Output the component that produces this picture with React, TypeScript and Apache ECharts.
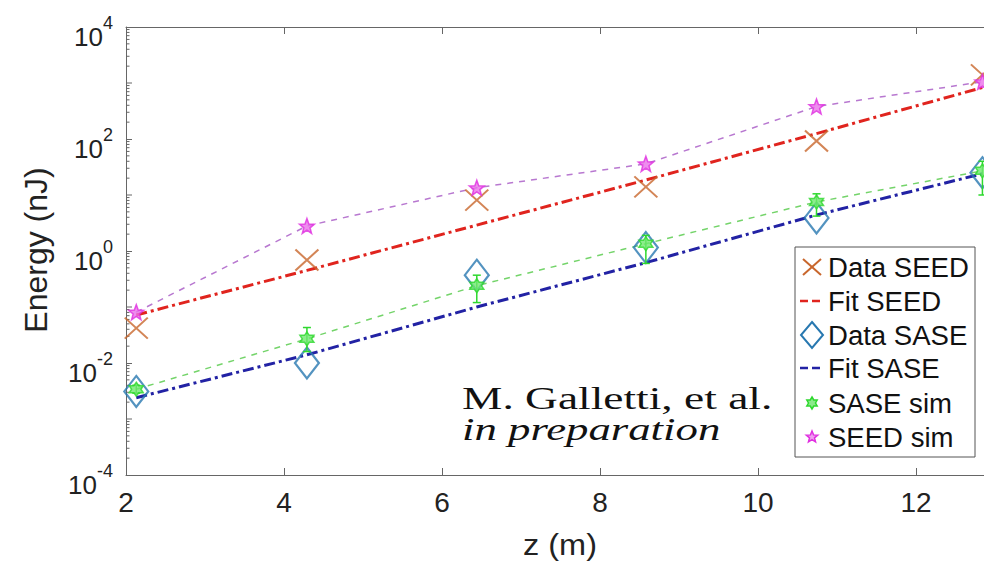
import React, { useEffect, useRef } from 'react';
import * as echarts from 'echarts';

// ---- data ----
const zPos = [2.13, 4.29, 6.44, 8.58, 10.74, 12.84];
const dataSeed = [0.042, 0.69, 8.1, 14, 92, 1400];
const fitSeed = [0.072, 0.45, 2.9, 18.5, 125, 830];
const dataSase = [0.0031, 0.01, 0.37, 1.15, 3.9, 25];
const fitSase = [0.0024, 0.014, 0.1, 0.62, 4.4, 24];
const saseSim = [0.0034, 0.027, 0.24, 1.35, 7.5, 27];
const saseSimLow = [0.0029, 0.016, 0.12, 0.6, 4.2, 10];
const saseSimHigh = [0.004, 0.043, 0.37, 1.9, 10.5, 40];
const seedSim = [0.081, 2.8, 13.5, 36, 380, 1050];
const legendNames = ['Data SEED', 'Fit SEED', 'Data SASE', 'Fit SASE', 'SASE sim', 'SEED sim'];

const C_DSEED = '#C8662C';
const C_FSEED = '#E0241E';
const C_DSASE = '#2878B0';
const C_FSASE = '#2222A4';
const C_SASESIM = '#2ED82E';
const C_SASELINE = '#74D46A';
const C_SEEDSIM = '#E030E0';
const C_SEEDLINE = '#B878D0';
const SANS = 'Liberation Sans, Arial, sans-serif';
const SERIF = 'Liberation Serif, Times New Roman, serif';

function starPoints(n: number, cx: number, cy: number, ro: number, ri: number) {
  const pts: number[][] = [];
  for (let i = 0; i < 2 * n; i++) {
    const r = i % 2 === 0 ? ro : ri;
    const a = -Math.PI / 2 + (i * Math.PI) / n;
    pts.push([cx + r * Math.cos(a), cy + r * Math.sin(a)]);
  }
  return pts;
}
function starPath(n: number, ri: number) {
  const pts = starPoints(n, 50, 50, 50, ri);
  return 'path://M' + pts.map((p) => p[0].toFixed(2) + ',' + p[1].toFixed(2)).join('L') + 'Z';
}
const PENTA = starPath(5, 21);
const HEXA = starPath(6, 29);
const XSYM = 'path://M0,0L20,20M20,0L0,20';

export default function App() {
  const ref = useRef<HTMLDivElement>(null);
  useEffect(() => {
    if (!ref.current) return;
    const chart = echarts.init(ref.current, null, { renderer: 'svg' });
    const pair = (ys: number[]) => zPos.map((z, i) => [z, ys[i]]);

    const minorTicks: number[][] = [];
    for (let e = -4; e < 4; e++) {
      for (let k = 1; k <= 9; k++) {
        if (k === 1 && e % 2 === 0) continue;
        minorTicks.push([2, k * Math.pow(10, e), k === 1 ? 6 : 3.5]);
      }
    }

    const legendX = 795;
    const legendY = 247;
    const rowY = [267, 301, 335, 368, 403, 437];
    const iconX = 812;
    const textX = 828;
    const legendChildren: any[] = [
      {
        type: 'rect',
        shape: { x: legendX, y: legendY, width: 180, height: 210 },
        style: { fill: '#fff', stroke: '#555', lineWidth: 1 },
      },
    ];
    legendNames.forEach((nm, i) => {
      legendChildren.push({
        type: 'text',
        x: textX,
        y: rowY[i] + 1,
        scaleX: 1.02,
        style: {
          text: nm,
          fontSize: 27,
          fontFamily: SANS,
          fill: '#111',
          textVerticalAlign: 'middle',
          textAlign: 'left',
        },
      });
    });
    legendChildren.push(
      { type: 'line', shape: { x1: iconX - 9, y1: rowY[0] - 8, x2: iconX + 9, y2: rowY[0] + 8 }, style: { stroke: C_DSEED, lineWidth: 2 } },
      { type: 'line', shape: { x1: iconX - 9, y1: rowY[0] + 8, x2: iconX + 9, y2: rowY[0] - 8 }, style: { stroke: C_DSEED, lineWidth: 2 } },
      { type: 'line', shape: { x1: iconX - 12, y1: rowY[1], x2: iconX + 12, y2: rowY[1] }, style: { stroke: C_FSEED, lineWidth: 2.5, lineDash: [8, 4] } },
      { type: 'polygon', shape: { points: [[iconX, rowY[2] - 13], [iconX + 11, rowY[2]], [iconX, rowY[2] + 13], [iconX - 11, rowY[2]]] }, style: { fill: 'none', stroke: C_DSASE, lineWidth: 2 } },
      { type: 'line', shape: { x1: iconX - 12, y1: rowY[3], x2: iconX + 12, y2: rowY[3] }, style: { stroke: C_FSASE, lineWidth: 2.5, lineDash: [8, 4] } },
      { type: 'polygon', shape: { points: starPoints(6, iconX, rowY[4], 6, 3.5) }, style: { fill: '#8BEA8B', stroke: C_SASESIM, lineWidth: 1.5 } },
      { type: 'polygon', shape: { points: starPoints(5, iconX, rowY[5], 6, 2.6) }, style: { fill: '#F0A0F0', stroke: C_SEEDSIM, lineWidth: 1.5 } }
    );

    const option: any = {
      animation: false,
      backgroundColor: '#fff',
      grid: { left: 126, right: 0, top: 27, bottom: 89, containLabel: false },
      xAxis: [
        {
          type: 'value',
          min: 2,
          max: 12.86,
          interval: 2,
          axisLine: { show: true, lineStyle: { color: '#666', width: 1 } },
          axisTick: { show: true, inside: true, length: 7, lineStyle: { color: '#666' } },
          axisLabel: {
            show: true,
            margin: 13,
            fontSize: 28,
            fontFamily: SANS,
            color: '#222',
            showMaxLabel: false,
          },
          splitLine: { show: false },
        },
        {
          type: 'value',
          position: 'top',
          min: 2,
          max: 12.86,
          interval: 2,
          axisLine: { show: true, onZero: false, lineStyle: { color: '#666', width: 1 } },
          axisTick: { show: true, inside: true, length: 7, lineStyle: { color: '#666' } },
          axisLabel: { show: false },
          splitLine: { show: false },
        },
      ],
      yAxis: {
        type: 'log',
        logBase: 10,
        min: 1e-4,
        max: 1e4,
        interval: 2,
        axisLine: { show: true, lineStyle: { color: '#666', width: 1 } },
        axisTick: { show: true, inside: true, length: 6, lineStyle: { color: '#666' } },
        minorTick: { show: false },
        splitLine: { show: false },
        axisLabel: {
          margin: 13,
          padding: [9, 0, 0, 0],
          formatter: (v: number) => '{b|10}{s|' + Math.round(Math.log10(v)) + '}',
          rich: {
            b: { fontSize: 26, fontFamily: SANS, color: '#222', lineHeight: 36, verticalAlign: 'bottom' },
            s: { fontSize: 18, fontFamily: SANS, color: '#222', lineHeight: 18, verticalAlign: 'top' },
          },
        },
      },
      graphic: [
        {
          type: 'text',
          x: 36,
          y: 250,
          rotation: Math.PI / 2,
          style: {
            text: 'Energy (nJ)',
            fontSize: 32,
            fontFamily: SANS,
            fill: '#222',
            textAlign: 'center',
            textVerticalAlign: 'middle',
          },
        },
        {
          type: 'text',
          x: 560,
          y: 545,
          scaleX: 1.12,
          style: {
            text: 'z (m)',
            fontSize: 29,
            fontFamily: SANS,
            fill: '#222',
            textAlign: 'center',
            textVerticalAlign: 'middle',
          },
        },
        {
          type: 'text',
          x: 462,
          y: 382,
          scaleX: 1.42,
          style: {
            text: 'M. Galletti, et al.',
            fontSize: 32,
            fontFamily: SERIF,
            fill: '#111',
            textAlign: 'left',
            textVerticalAlign: 'alphabetic',
          },
        },
        {
          type: 'text',
          x: 462,
          y: 413,
          scaleX: 1.4,
          style: {
            text: 'in preparation',
            fontSize: 32,
            fontStyle: 'italic',
            fontFamily: SERIF,
            fill: '#111',
            textAlign: 'left',
            textVerticalAlign: 'alphabetic',
          },
        },
        { type: 'group', z: 100, children: legendChildren },
      ],
      series: [
        {
          name: 'minor ticks',
          type: 'custom',
          silent: true,
          data: minorTicks,
          renderItem: (params: any, api: any) => {
            const p = api.coord([api.value(0), api.value(1)]);
            const len = api.value(2);
            return {
              type: 'line',
              shape: { x1: p[0], y1: p[1], x2: p[0] + len, y2: p[1] },
              style: { stroke: '#666', lineWidth: 1 },
            };
          },
        },
        {
          name: 'SEED sim line',
          type: 'line',
          data: pair(seedSim),
          symbol: 'none',
          lineStyle: { color: C_SEEDLINE, width: 1.5, type: [6, 6] },
          z: 2,
        },
        {
          name: 'SASE sim line',
          type: 'line',
          data: pair(saseSim),
          symbol: 'none',
          lineStyle: { color: C_SASELINE, width: 1.5, type: [6, 6] },
          z: 2,
        },
        {
          name: 'Fit SEED',
          type: 'line',
          data: pair(fitSeed),
          symbol: 'none',
          lineStyle: { color: C_FSEED, width: 3, type: [11, 4, 3, 4] },
          z: 3,
        },
        {
          name: 'Fit SASE',
          type: 'line',
          data: pair(fitSase),
          symbol: 'none',
          lineStyle: { color: C_FSASE, width: 3, type: [11, 4, 3, 4] },
          z: 3,
        },
        {
          name: 'Data SEED',
          type: 'scatter',
          data: pair(dataSeed),
          symbol: XSYM,
          symbolSize: [23, 21],
          itemStyle: { color: 'transparent', borderColor: C_DSEED, borderWidth: 2 },
          z: 4,
        },
        {
          name: 'Data SASE',
          type: 'scatter',
          data: pair(dataSase),
          symbol: 'diamond',
          symbolSize: [24, 31],
          itemStyle: { color: 'transparent', borderColor: C_DSASE, borderWidth: 2.2 },
          z: 4,
        },
        {
          name: 'SASE sim error',
          type: 'custom',
          data: zPos.map((z, i) => [z, saseSimLow[i], saseSimHigh[i]]),
          encode: { x: 0, y: [1, 2] },
          renderItem: (params: any, api: any) => {
            const lo = api.coord([api.value(0), api.value(1)]);
            const hi = api.coord([api.value(0), api.value(2)]);
            const w = 4;
            const st = { stroke: C_SASESIM, lineWidth: 1.5 };
            return {
              type: 'group',
              children: [
                { type: 'line', shape: { x1: lo[0], y1: lo[1], x2: hi[0], y2: hi[1] }, style: st },
                { type: 'line', shape: { x1: lo[0] - w, y1: lo[1], x2: lo[0] + w, y2: lo[1] }, style: st },
                { type: 'line', shape: { x1: hi[0] - w, y1: hi[1], x2: hi[0] + w, y2: hi[1] }, style: st },
              ],
            };
          },
          z: 5,
        },
        {
          name: 'SASE sim',
          type: 'scatter',
          data: pair(saseSim),
          symbol: HEXA,
          symbolSize: 14,
          itemStyle: { color: '#6FE86F', borderColor: C_SASESIM, borderWidth: 1.5 },
          z: 6,
        },
        {
          name: 'SEED sim',
          type: 'scatter',
          data: pair(seedSim),
          symbol: PENTA,
          symbolSize: 15,
          itemStyle: { color: '#EA70EA', borderColor: C_SEEDSIM, borderWidth: 1.5 },
          z: 6,
        },
      ],
    };
    chart.setOption(option);
    return () => chart.dispose();
  }, []);
  return (
    <div
      ref={ref}
      style={{ position: 'absolute', left: 0, top: 0, width: 984, height: 564, background: '#fff' }}
    />
  );
}
